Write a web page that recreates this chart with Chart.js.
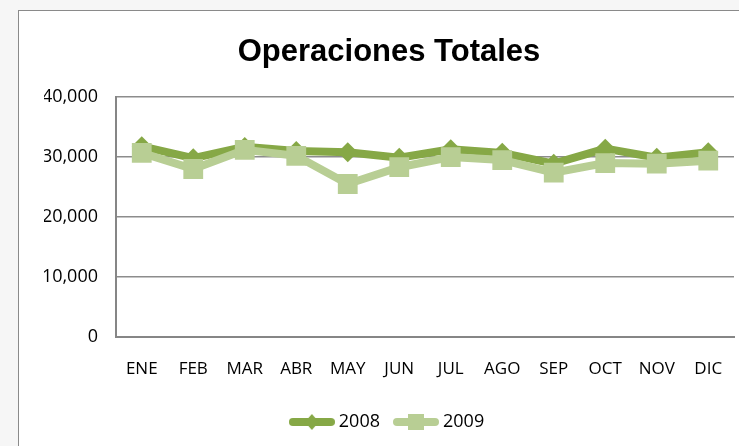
<!DOCTYPE html>
<html>
<head>
<meta charset="utf-8">
<script src="https://cdn.jsdelivr.net/npm/chart.js@4"></script>
<style>
    html, body { margin: 0; padding: 0; }
    body {
        width: 739px;
        height: 446px;
        overflow: hidden;
        position: relative;
        background: #f6f6f6;
    }
    #frame {
        position: absolute;
        left: 18px;
        top: 10px;
        width: 760px;
        height: 460px;
        background: #fff;
        border: 1px solid #8a8a8a;
    }
    #chartBox {
        position: absolute;
        left: 0;
        top: 0;
        width: 745px;
        height: 436px;
    }
</style>
</head>
<body>
<div id="frame">
    <div id="chartBox"><canvas id="opsChart"></canvas></div>
</div>
<script>
// Datos del gráfico
const months = ['ENE', 'FEB', 'MAR', 'ABR', 'MAY', 'JUN', 'JUL', 'AGO', 'SEP', 'OCT', 'NOV', 'DIC'];
const ops2008 = [31800, 29800, 31700, 31000, 30800, 29900, 31300, 30700, 28900, 31400, 29900, 30800];
const ops2009 = [30700, 28000, 31200, 30200, 25500, 28300, 30000, 29500, 27400, 29000, 28900, 29400];
const yTicks = [0, 10000, 20000, 30000, 40000];

const color2008 = '#86a846';
const color2009 = '#b8ce94';

// small canvas used as the legend symbol: thick line with the marker in the middle
function legendSymbol(color, style) {
    const c = document.createElement('canvas');
    c.width = 46;
    c.height = 20;
    const ctx = c.getContext('2d');
    ctx.strokeStyle = color;
    ctx.fillStyle = color;
    ctx.lineWidth = 8;
    ctx.lineCap = 'round';
    ctx.beginPath();
    ctx.moveTo(4, 10);
    ctx.lineTo(42, 10);
    ctx.stroke();
    if (style === 'diamond') {
        ctx.beginPath();
        ctx.moveTo(23, 2);
        ctx.lineTo(30, 10);
        ctx.lineTo(23, 18);
        ctx.lineTo(16, 10);
        ctx.closePath();
        ctx.fill();
    } else {
        ctx.fillRect(15, 2, 16, 16);
    }
    return c;
}

const sym2008 = legendSymbol(color2008, 'diamond');
const sym2009 = legendSymbol(color2009, 'square');

const ctx = document.getElementById('opsChart').getContext('2d');
new Chart(ctx, {
    type: 'line',
    data: {
        labels: months,
        datasets: [
            {
                label: '2008',
                data: ops2008,
                borderColor: color2008,
                backgroundColor: color2008,
                borderWidth: 8,
                tension: 0,
                pointStyle: 'rectRot',
                pointRadius: 10,
                pointBorderWidth: 0,
                order: 2
            },
            {
                label: '2009',
                data: ops2009,
                borderColor: color2009,
                backgroundColor: color2009,
                borderWidth: 8,
                tension: 0,
                pointStyle: 'rect',
                pointRadius: 14,
                pointBorderWidth: 0,
                order: 1
            }
        ]
    },
    options: {
        responsive: true,
        maintainAspectRatio: false,
        animation: false,
        layout: {
            padding: { left: 25, right: 30, top: 0, bottom: 6 }
        },
        plugins: {
            title: {
                display: true,
                text: 'Operaciones Totales',
                color: '#000',
                font: { family: 'Liberation Sans', size: 31, weight: 'bold' },
                padding: { top: 23, bottom: 26 }
            },
            legend: {
                position: 'bottom',
                labels: {
                    usePointStyle: true,
                    pointStyleWidth: 36,
                    color: '#000',
                    font: { family: 'Open Sans', size: 18 },
                    padding: 18,
                    generateLabels: (chart) => [
                        { text: '2008', pointStyle: sym2008, fillStyle: color2008, strokeStyle: color2008, lineWidth: 0, datasetIndex: 0, hidden: false },
                        { text: '2009', pointStyle: sym2009, fillStyle: color2009, strokeStyle: color2009, lineWidth: 0, datasetIndex: 1, hidden: false }
                    ]
                }
            },
            tooltip: { enabled: false }
        },
        scales: {
            x: {
                offset: true,
                afterFit: (axis) => {
                    axis.height -= 6;
                },
                grid: { display: false, drawTicks: false, offset: true },
                border: { color: '#868686', width: 2 },
                ticks: {
                    color: '#000',
                    font: { family: 'Open Sans', size: 17 },
                    padding: 22,
                    maxRotation: 0
                }
            },
            y: {
                min: 0,
                max: 40000,
                afterBuildTicks: (axis) => {
                    axis.ticks = yTicks.map(v => ({ value: v }));
                },
                afterFit: (axis) => {
                    axis.width = 72;
                },
                grid: { color: '#8c8c8c', lineWidth: 1.5, drawTicks: false },
                border: { color: '#868686', width: 2 },
                ticks: {
                    color: '#000',
                    font: { family: 'Open Sans', size: 18 },
                    padding: 18,
                    callback: (v) => v.toLocaleString('en-US')
                }
            }
        }
    }
});
</script>
</body>
</html>
